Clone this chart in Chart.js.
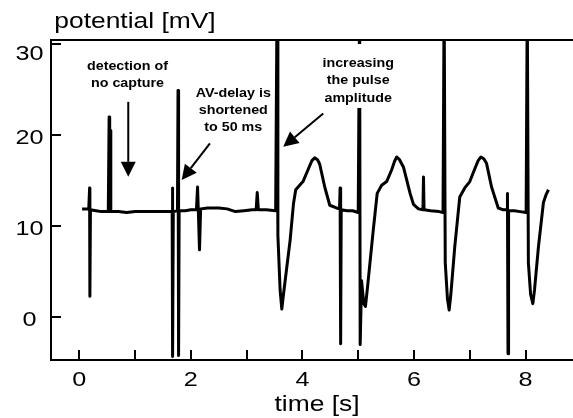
<!DOCTYPE html>
<html>
<head>
<meta charset="utf-8">
<script src="https://cdn.jsdelivr.net/npm/chart.js@4/dist/chart.umd.min.js"></script>
<style>
  html, body { margin: 0; padding: 0; background: #fff; }
  canvas { display: block; }
</style>
</head>
<body>
<canvas id="ecg" width="573" height="418"></canvas>
<script>
// trace: time in s, potential in mV
const timeS = [
  0.05, 0.17, 0.185, 0.19, 0.20, 0.30, 0.40, 0.52, 0.535, 0.545, 0.555, 0.565,
  0.70, 0.85, 1.00, 1.20, 1.40, 1.60, 1.665, 1.67, 1.675, 1.685, 1.76, 1.77,
  1.78, 1.79, 1.90, 2.00, 2.10, 2.12, 2.135, 2.155, 2.175, 2.30, 2.50, 2.65,
  2.80, 2.95, 3.10, 3.17, 3.19, 3.21, 3.35, 3.52, 3.545, 3.56, 3.60, 3.63,
  3.66, 3.72, 3.78, 3.84, 3.88, 3.95, 4.01, 4.10, 4.17, 4.22, 4.27, 4.31,
  4.40, 4.49, 4.61, 4.665, 4.675, 4.685, 4.695, 4.80, 4.90, 5.00, 5.025, 5.035,
  5.06, 5.10, 5.13, 5.17, 5.27, 5.34, 5.42, 5.51, 5.60, 5.65, 5.69, 5.74,
  5.81, 5.93, 5.99, 6.08, 6.16, 6.17, 6.18, 6.30, 6.45, 6.52, 6.54, 6.56,
  6.60, 6.63, 6.66, 6.73, 6.82, 6.91, 7.00, 7.09, 7.15, 7.20, 7.25, 7.30,
  7.39, 7.51, 7.60, 7.67, 7.675, 7.685, 7.695, 7.80, 7.90, 8.01, 8.03, 8.05,
  8.09, 8.13, 8.16, 8.23, 8.32, 8.37, 8.41
];
const potentialMV = [
  11.9, 11.9, 14.2, 2.3, 11.8, 11.7, 11.6, 11.6, 22.0, 11.6, 20.5, 11.6,
  11.6, 11.5, 11.6, 11.6, 11.6, 11.6, 11.6, 14.2, -4.3, 11.6, 11.7, 24.9,
  -4.2, 11.7, 11.7, 11.8, 11.8, 14.3, 11.5, 7.4, 11.9, 12.0, 12.0, 11.9,
  11.6, 11.7, 11.8, 11.8, 13.7, 11.8, 11.8, 11.7, 35, 9, 3, 0.9,
  2.5, 5.5, 8.5, 12.5, 14.0, 14.5, 14.9, 16.2, 17.2, 17.5, 17.3, 16.8,
  14.3, 12.3, 12.0, 11.9, 14.2, -2.9, 11.8, 11.7, 11.7, 11.5, 35, -3.0,
  4.0, 1.5, 1.2, 3.5, 9.6, 13.6, 14.5, 14.9, 16.2, 17.1, 17.6, 17.3,
  16.5, 13.6, 12.4, 11.9, 11.8, 15.4, 11.8, 11.7, 11.6, 11.5, 35, 6,
  2, 0.8, 2.5, 7.7, 13.2, 14.2, 14.9, 16.3, 17.2, 17.6, 17.4, 16.9,
  14.3, 12.0, 11.8, 11.8, 13.6, -4.0, 11.7, 11.7, 11.6, 11.5, 35, 6,
  2.5, 1.5, 3.0, 7.7, 12.6, 13.5, 14.0
];

const xMajorTicks = [0, 2, 4, 6, 8];
const xMinorTicks = [1, 3, 5, 7];
const yTicks = [0, 10, 20, 30];
const xTitle = "time [s]";
const yTitle = "potential [mV]";

// notes: centre x and first baseline in data units
const notes = [
  { lines: ["detection of", "no capture"], x: 0.864, y: 27.15, gap: 16.7 },
  { lines: ["AV-delay is", "shortened", "to 50 ms"], x: 2.76, y: 24.18, gap: 17 },
  { lines: ["increasing", "the pulse", "amplitude"], x: 5.0, y: 27.48, gap: 17.5, blank: true }
];
const arrows = [
  { from: [0.878, 23.65], to: [0.878, 15.42] },
  { from: [2.342, 19.09], to: [1.835, 15.06] },
  { from: [4.373, 22.38], to: [3.656, 18.72] }
];

const FONT = "'Liberation Sans', Arial, sans-serif";
const STRETCH = 1.2;

function wideText(ctx, text, x, y, font, sx, align) {
  ctx.save();
  ctx.font = font;
  ctx.translate(x, y);
  ctx.scale(sx, 1);
  ctx.textAlign = align || "center";
  ctx.textBaseline = "alphabetic";
  ctx.fillText(text, 0, 0);
  ctx.restore();
}

const frame = {
  id: "frame",
  afterDatasetsDraw(chart) {
    const ctx = chart.ctx;
    const a = chart.chartArea;
    const xs = chart.scales.x, ys = chart.scales.y;
    ctx.save();
    ctx.strokeStyle = "#000";
    ctx.fillStyle = "#000";
    ctx.lineWidth = 2;
    ctx.lineCap = "butt";

    // spines: left, top, bottom (no right one)
    ctx.beginPath();
    ctx.moveTo(a.left, a.top); ctx.lineTo(a.left, a.bottom);
    ctx.moveTo(a.left - 1, a.top); ctx.lineTo(a.right, a.top);
    ctx.moveTo(a.left - 1, a.bottom); ctx.lineTo(a.right, a.bottom);
    ctx.stroke();

    // inward ticks
    ctx.beginPath();
    xMajorTicks.concat(xMinorTicks).forEach(v => {
      const px = Math.round(xs.getPixelForValue(v));
      ctx.moveTo(px, a.bottom); ctx.lineTo(px, a.bottom - 10);
    });
    yTicks.forEach(v => {
      const py = Math.round(ys.getPixelForValue(v));
      if (py <= a.top + 2) return;
      ctx.moveTo(a.left, py); ctx.lineTo(a.left + 10, py);
    });
    ctx.stroke();

    // tick labels
    const tickFont = "21px " + FONT;
    xMajorTicks.forEach(v => {
      wideText(ctx, String(v), xs.getPixelForValue(v), a.bottom + 26, tickFont, STRETCH);
    });
    yTicks.forEach(v => {
      const py = Math.max(ys.getPixelForValue(v), a.top + 11);
      wideText(ctx, String(v), 29.5, py + 9, tickFont, STRETCH);
    });

    // axis titles
    wideText(ctx, yTitle, 135, 28, "22px " + FONT, STRETCH);
    wideText(ctx, xTitle, (a.left + a.right) / 2 + 5, 411, "22px " + FONT, STRETCH);

    // notes
    const noteFont = "bold 13px " + FONT;
    notes.forEach(n => {
      const cx = xs.getPixelForValue(n.x);
      const by = ys.getPixelForValue(n.y);
      if (n.blank) {
        ctx.font = noteFont;
        const w = Math.max(...n.lines.map(s => ctx.measureText(s).width)) * 1.1;
        ctx.fillStyle = "#fff";
        ctx.fillRect(cx - w / 2 - 4, a.top + 4, w + 8, by + n.gap * (n.lines.length - 1) + 6 - a.top - 4);
        ctx.fillStyle = "#000";
      }
      n.lines.forEach((s, i) => wideText(ctx, s, cx, by + i * n.gap, noteFont, 1.1));
    });

    // arrows
    arrows.forEach(r => {
      const x0 = xs.getPixelForValue(r.from[0]), y0 = ys.getPixelForValue(r.from[1]);
      const x1 = xs.getPixelForValue(r.to[0]), y1 = ys.getPixelForValue(r.to[1]);
      const ang = Math.atan2(y1 - y0, x1 - x0);
      const len = 15, half = 7.5;
      const bx = x1 - len * Math.cos(ang), by = y1 - len * Math.sin(ang);
      ctx.lineWidth = 2;
      ctx.beginPath();
      ctx.moveTo(x0, y0); ctx.lineTo(bx, by);
      ctx.stroke();
      ctx.beginPath();
      ctx.moveTo(x1, y1);
      ctx.lineTo(bx + half * Math.sin(ang), by - half * Math.cos(ang));
      ctx.lineTo(bx - half * Math.sin(ang), by + half * Math.cos(ang));
      ctx.closePath();
      ctx.fill();
    });
    ctx.restore();
  }
};

new Chart(document.getElementById("ecg"), {
  type: "line",
  data: {
    datasets: [{
      data: timeS.map((t, i) => ({ x: t, y: potentialMV[i] })),
      borderColor: "#000",
      borderWidth: 3,
      borderJoinStyle: "round",
      pointRadius: 0,
      tension: 0,
      fill: false
    }]
  },
  options: {
    responsive: false,
    devicePixelRatio: 1,
    animation: false,
    layout: { padding: { left: 51, right: 0, top: 40, bottom: 58 } },
    plugins: { legend: { display: false }, tooltip: { enabled: false } },
    scales: {
      x: { type: "linear", min: -0.507, max: 8.85, display: false },
      y: { min: -4.69, max: 30.44, display: false }
    }
  },
  plugins: [frame]
});
</script>
</body>
</html>
